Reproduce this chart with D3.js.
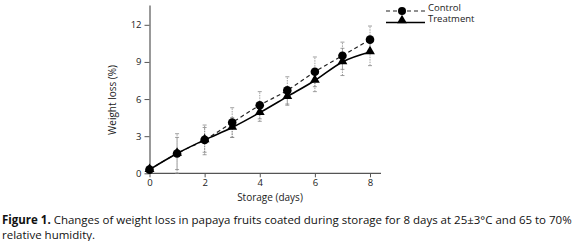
<!DOCTYPE html>
<html>
<head>
<meta charset="utf-8">
<script src="https://cdn.jsdelivr.net/npm/d3@7"></script>
<style>
body{margin:0;background:#fff;}
text{font-family:"Open Sans",sans-serif;}
</style>
</head>
<body>
<svg id="myGraph" width="580" height="241"></svg>
<script>
// data
var days = [0,1,2,3,4,5,6,7,8];
var control = [0.3,1.6,2.7,4.1,5.5,6.7,8.2,9.5,10.8];
var controlErr = [0.1,1.3,1.0,1.2,1.1,1.1,1.2,1.1,1.1];
var treatment = [0.3,1.6,2.7,3.7,4.9,6.2,7.5,9.0,9.8];
var treatmentErr = [0.1,1.6,1.2,0.8,0.7,0.7,0.9,1.1,1.1];
var xTicks = [0,2,4,6,8];
var yTicks = [0,3,6,9,12];
var seriesNames = ["Control","Treatment"];

window.addEventListener("load",function(){

	var svg = d3.select("#myGraph");

	var x = d3.scaleLinear().domain([0,8]).range([149.5,370]);
	var y = d3.scaleLinear().domain([0,13.6]).range([173.3,5]);

	// axes
	var xAxis = svg.append("g")
		.attr("transform","translate(0,173.3)")
		.call(d3.axisBottom(x).tickValues(xTicks).tickSize(4).tickPadding(1).tickSizeOuter(0).tickFormat(d3.format("d")));
	xAxis.select(".domain").attr("d","M149.5,0H381");
	var yAxis = svg.append("g")
		.attr("transform","translate(149.5,0)")
		.call(d3.axisLeft(y).tickValues(yTicks).tickSize(5).tickSizeOuter(0).tickFormat(d3.format("d")));
	svg.selectAll(".domain").attr("stroke","#555").attr("stroke-width",1.2);
	svg.selectAll(".tick line").attr("stroke","#555");
	svg.selectAll(".tick text").attr("font-family","Open Sans").attr("font-size",9.5).attr("fill","#222");
	xAxis.selectAll(".tick text").attr("dy","0.8em");

	svg.append("text")
		.attr("transform","translate(116,100) rotate(-90)")
		.attr("text-anchor","middle")
		.attr("font-size",10)
		.attr("fill","#222")
		.text("Weight loss (%)");
	svg.append("text")
		.attr("x",270).attr("y",200.5)
		.attr("text-anchor","middle")
		.attr("font-size",10)
		.attr("fill","#222")
		.text("Storage (days)");

	// error bars
	function errBars(vals,errs){
		var g = svg.append("g");
		days.forEach(function(d,i){
			var cx = x(d);
			var lo = y(Math.max(0,vals[i]-errs[i])), hi = y(vals[i]+errs[i]);
			g.append("line").attr("x1",cx).attr("x2",cx).attr("y1",lo).attr("y2",hi)
				.attr("stroke","#888").attr("stroke-width",0.8).attr("stroke-dasharray","1.5,1");
			[lo,hi].forEach(function(yy){
				g.append("line").attr("x1",cx-2).attr("x2",cx+2).attr("y1",yy).attr("y2",yy)
					.attr("stroke","#888").attr("stroke-width",0.8);
			});
		});
	}
	errBars(control,controlErr);
	errBars(treatment,treatmentErr);

	var line = d3.line()
		.x(function(d){return x(d[0]);})
		.y(function(d){return y(d[1]);})
		.curve(d3.curveMonotoneX);

	svg.append("path")
		.datum(days.map(function(d,i){return [d,control[i]];}))
		.attr("d",line).attr("fill","none").attr("stroke","#222")
		.attr("stroke-width",1.2).attr("stroke-dasharray","4,3");
	svg.append("path")
		.datum(days.map(function(d,i){return [d,treatment[i]];}))
		.attr("d",line).attr("fill","none").attr("stroke","#000")
		.attr("stroke-width",1.6);

	var tri = d3.symbol().type(d3.symbolTriangle).size(42);

	svg.selectAll("circle.c")
		.data(control).enter().append("circle")
		.attr("class","c")
		.attr("cx",function(d,i){return x(days[i]);})
		.attr("cy",function(d){return y(d);})
		.attr("r",4.3).attr("fill","#000");
	svg.selectAll("path.t")
		.data(treatment).enter().append("path")
		.attr("class","t")
		.attr("d",tri)
		.attr("transform",function(d,i){return "translate("+x(days[i])+","+(y(d)-0.5)+")";})
		.attr("fill","#000");

	// legend
	var lg = svg.append("g");
	lg.append("line").attr("x1",386).attr("x2",425).attr("y1",11).attr("y2",11)
		.attr("stroke","#222").attr("stroke-width",1.1).attr("stroke-dasharray","4,3");
	lg.append("circle").attr("cx",402).attr("cy",11).attr("r",4).attr("fill","#000");
	lg.append("line").attr("x1",386).attr("x2",425).attr("y1",22.5).attr("y2",22.5)
		.attr("stroke","#000").attr("stroke-width",1.4);
	lg.append("path").attr("d",tri).attr("transform","translate(402,20.5)").attr("fill","#000");
	lg.append("text").attr("x",428).attr("y",10.5).attr("font-size",9.5).attr("fill","#222").text(seriesNames[0]);
	lg.append("text").attr("x",428).attr("y",22).attr("font-size",9.5).attr("fill","#222").text(seriesNames[1]);

	// caption
	var cap = svg.append("text").attr("x",2).attr("y",224).attr("font-size",11.5).attr("fill","#111");
	cap.append("tspan").attr("font-weight","bold").text("Figure 1.");
	cap.append("tspan").text(" Changes of weight loss in papaya fruits coated during storage for 8 days at 25±3°C and 65 to 70%");
	var w = cap.node().getComputedTextLength();
	var fs = 11.5*570/w;
	cap.attr("font-size",fs);
	svg.append("text").attr("x",2).attr("y",239).attr("font-size",fs).attr("fill","#111").text("relative humidity.");
});
</script>
</body>
</html>
